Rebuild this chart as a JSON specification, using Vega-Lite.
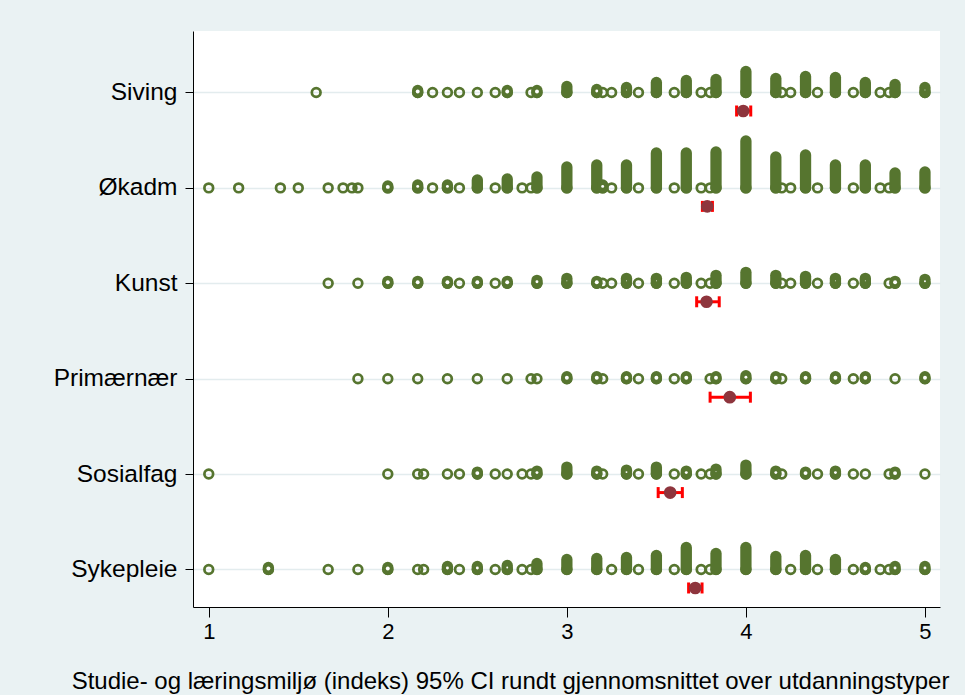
{
  "$schema": "https://vega.github.io/schema/vega-lite/v6.json",
  "width": 747,
  "height": 576,
  "autosize": {"type": "none"},
  "padding": {"left": 193, "top": 31, "right": 25, "bottom": 88},
  "background": "#EAF2F3",
  "view": {"fill": "white", "stroke": null},
  "config": {
    "font": "Liberation Sans",
    "axis": {"domainColor": "black", "tickColor": "black", "labelColor": "black", "titleColor": "black", "domainWidth": 1, "tickWidth": 1}
  },
  "datasets": {
    "dots": [
      {"g": "Siving", "v": 1.6, "n": 1}, {"g": "Siving", "v": 2.167, "n": 2}, {"g": "Siving", "v": 2.25, "n": 1}, {"g": "Siving", "v": 2.333, "n": 1}, {"g": "Siving", "v": 2.4, "n": 1}, {"g": "Siving", "v": 2.5, "n": 1}, {"g": "Siving", "v": 2.6, "n": 1}, {"g": "Siving", "v": 2.667, "n": 2}, {"g": "Siving", "v": 2.8, "n": 1}, {"g": "Siving", "v": 2.833, "n": 2}, {"g": "Siving", "v": 3.0, "n": 6}, {"g": "Siving", "v": 3.167, "n": 3}, {"g": "Siving", "v": 3.2, "n": 1}, {"g": "Siving", "v": 3.25, "n": 1}, {"g": "Siving", "v": 3.333, "n": 5}, {"g": "Siving", "v": 3.4, "n": 1}, {"g": "Siving", "v": 3.5, "n": 10}, {"g": "Siving", "v": 3.6, "n": 1}, {"g": "Siving", "v": 3.667, "n": 12}, {"g": "Siving", "v": 3.75, "n": 1}, {"g": "Siving", "v": 3.8, "n": 1}, {"g": "Siving", "v": 3.833, "n": 13}, {"g": "Siving", "v": 4.0, "n": 21}, {"g": "Siving", "v": 4.167, "n": 14}, {"g": "Siving", "v": 4.2, "n": 1}, {"g": "Siving", "v": 4.25, "n": 1}, {"g": "Siving", "v": 4.333, "n": 16}, {"g": "Siving", "v": 4.4, "n": 1}, {"g": "Siving", "v": 4.5, "n": 15}, {"g": "Siving", "v": 4.6, "n": 1}, {"g": "Siving", "v": 4.667, "n": 10}, {"g": "Siving", "v": 4.75, "n": 1}, {"g": "Siving", "v": 4.8, "n": 1}, {"g": "Siving", "v": 4.833, "n": 8}, {"g": "Siving", "v": 5.0, "n": 5},
      {"g": "Økadm", "v": 1.0, "n": 1}, {"g": "Økadm", "v": 1.167, "n": 1}, {"g": "Økadm", "v": 1.4, "n": 1}, {"g": "Økadm", "v": 1.5, "n": 1}, {"g": "Økadm", "v": 1.667, "n": 1}, {"g": "Økadm", "v": 1.75, "n": 1}, {"g": "Økadm", "v": 1.8, "n": 1}, {"g": "Økadm", "v": 1.833, "n": 1}, {"g": "Økadm", "v": 2.0, "n": 2}, {"g": "Økadm", "v": 2.167, "n": 3}, {"g": "Økadm", "v": 2.25, "n": 1}, {"g": "Økadm", "v": 2.333, "n": 3}, {"g": "Økadm", "v": 2.4, "n": 1}, {"g": "Økadm", "v": 2.5, "n": 8}, {"g": "Økadm", "v": 2.6, "n": 1}, {"g": "Økadm", "v": 2.667, "n": 9}, {"g": "Økadm", "v": 2.75, "n": 1}, {"g": "Økadm", "v": 2.8, "n": 1}, {"g": "Økadm", "v": 2.833, "n": 11}, {"g": "Økadm", "v": 3.0, "n": 21}, {"g": "Økadm", "v": 3.167, "n": 23}, {"g": "Økadm", "v": 3.2, "n": 3}, {"g": "Økadm", "v": 3.25, "n": 1}, {"g": "Økadm", "v": 3.333, "n": 23}, {"g": "Økadm", "v": 3.4, "n": 1}, {"g": "Økadm", "v": 3.5, "n": 35}, {"g": "Økadm", "v": 3.6, "n": 1}, {"g": "Økadm", "v": 3.667, "n": 35}, {"g": "Økadm", "v": 3.75, "n": 1}, {"g": "Økadm", "v": 3.8, "n": 1}, {"g": "Økadm", "v": 3.833, "n": 36}, {"g": "Økadm", "v": 4.0, "n": 47}, {"g": "Økadm", "v": 4.167, "n": 31}, {"g": "Økadm", "v": 4.2, "n": 1}, {"g": "Økadm", "v": 4.25, "n": 1}, {"g": "Økadm", "v": 4.333, "n": 33}, {"g": "Økadm", "v": 4.4, "n": 1}, {"g": "Økadm", "v": 4.5, "n": 23}, {"g": "Økadm", "v": 4.6, "n": 1}, {"g": "Økadm", "v": 4.667, "n": 23}, {"g": "Økadm", "v": 4.75, "n": 1}, {"g": "Økadm", "v": 4.8, "n": 1}, {"g": "Økadm", "v": 4.833, "n": 15}, {"g": "Økadm", "v": 5.0, "n": 16},
      {"g": "Kunst", "v": 1.667, "n": 1}, {"g": "Kunst", "v": 1.833, "n": 1}, {"g": "Kunst", "v": 2.0, "n": 2}, {"g": "Kunst", "v": 2.167, "n": 2}, {"g": "Kunst", "v": 2.333, "n": 2}, {"g": "Kunst", "v": 2.4, "n": 1}, {"g": "Kunst", "v": 2.5, "n": 2}, {"g": "Kunst", "v": 2.6, "n": 1}, {"g": "Kunst", "v": 2.667, "n": 2}, {"g": "Kunst", "v": 2.833, "n": 3}, {"g": "Kunst", "v": 3.0, "n": 5}, {"g": "Kunst", "v": 3.167, "n": 2}, {"g": "Kunst", "v": 3.2, "n": 1}, {"g": "Kunst", "v": 3.25, "n": 1}, {"g": "Kunst", "v": 3.333, "n": 5}, {"g": "Kunst", "v": 3.4, "n": 1}, {"g": "Kunst", "v": 3.5, "n": 5}, {"g": "Kunst", "v": 3.6, "n": 1}, {"g": "Kunst", "v": 3.667, "n": 6}, {"g": "Kunst", "v": 3.75, "n": 1}, {"g": "Kunst", "v": 3.8, "n": 1}, {"g": "Kunst", "v": 3.833, "n": 8}, {"g": "Kunst", "v": 4.0, "n": 11}, {"g": "Kunst", "v": 4.167, "n": 8}, {"g": "Kunst", "v": 4.2, "n": 1}, {"g": "Kunst", "v": 4.25, "n": 1}, {"g": "Kunst", "v": 4.333, "n": 7}, {"g": "Kunst", "v": 4.4, "n": 1}, {"g": "Kunst", "v": 4.5, "n": 5}, {"g": "Kunst", "v": 4.6, "n": 1}, {"g": "Kunst", "v": 4.667, "n": 5}, {"g": "Kunst", "v": 4.8, "n": 1}, {"g": "Kunst", "v": 4.833, "n": 2}, {"g": "Kunst", "v": 5.0, "n": 4},
      {"g": "Primærnær", "v": 1.833, "n": 1}, {"g": "Primærnær", "v": 2.0, "n": 1}, {"g": "Primærnær", "v": 2.167, "n": 1}, {"g": "Primærnær", "v": 2.333, "n": 1}, {"g": "Primærnær", "v": 2.5, "n": 1}, {"g": "Primærnær", "v": 2.667, "n": 1}, {"g": "Primærnær", "v": 2.8, "n": 1}, {"g": "Primærnær", "v": 2.833, "n": 1}, {"g": "Primærnær", "v": 3.0, "n": 2}, {"g": "Primærnær", "v": 3.167, "n": 2}, {"g": "Primærnær", "v": 3.2, "n": 1}, {"g": "Primærnær", "v": 3.333, "n": 2}, {"g": "Primærnær", "v": 3.4, "n": 1}, {"g": "Primærnær", "v": 3.5, "n": 2}, {"g": "Primærnær", "v": 3.6, "n": 1}, {"g": "Primærnær", "v": 3.667, "n": 2}, {"g": "Primærnær", "v": 3.8, "n": 1}, {"g": "Primærnær", "v": 3.833, "n": 2}, {"g": "Primærnær", "v": 4.0, "n": 3}, {"g": "Primærnær", "v": 4.167, "n": 2}, {"g": "Primærnær", "v": 4.2, "n": 1}, {"g": "Primærnær", "v": 4.333, "n": 2}, {"g": "Primærnær", "v": 4.5, "n": 2}, {"g": "Primærnær", "v": 4.6, "n": 1}, {"g": "Primærnær", "v": 4.667, "n": 2}, {"g": "Primærnær", "v": 4.833, "n": 1}, {"g": "Primærnær", "v": 5.0, "n": 2},
      {"g": "Sosialfag", "v": 1.0, "n": 1}, {"g": "Sosialfag", "v": 2.0, "n": 1}, {"g": "Sosialfag", "v": 2.167, "n": 1}, {"g": "Sosialfag", "v": 2.2, "n": 1}, {"g": "Sosialfag", "v": 2.333, "n": 1}, {"g": "Sosialfag", "v": 2.4, "n": 1}, {"g": "Sosialfag", "v": 2.5, "n": 2}, {"g": "Sosialfag", "v": 2.6, "n": 1}, {"g": "Sosialfag", "v": 2.667, "n": 1}, {"g": "Sosialfag", "v": 2.75, "n": 1}, {"g": "Sosialfag", "v": 2.8, "n": 1}, {"g": "Sosialfag", "v": 2.833, "n": 3}, {"g": "Sosialfag", "v": 3.0, "n": 7}, {"g": "Sosialfag", "v": 3.167, "n": 3}, {"g": "Sosialfag", "v": 3.2, "n": 1}, {"g": "Sosialfag", "v": 3.333, "n": 4}, {"g": "Sosialfag", "v": 3.4, "n": 1}, {"g": "Sosialfag", "v": 3.5, "n": 7}, {"g": "Sosialfag", "v": 3.6, "n": 1}, {"g": "Sosialfag", "v": 3.667, "n": 3}, {"g": "Sosialfag", "v": 3.75, "n": 1}, {"g": "Sosialfag", "v": 3.8, "n": 1}, {"g": "Sosialfag", "v": 3.833, "n": 5}, {"g": "Sosialfag", "v": 4.0, "n": 9}, {"g": "Sosialfag", "v": 4.167, "n": 3}, {"g": "Sosialfag", "v": 4.2, "n": 1}, {"g": "Sosialfag", "v": 4.333, "n": 2}, {"g": "Sosialfag", "v": 4.4, "n": 1}, {"g": "Sosialfag", "v": 4.5, "n": 3}, {"g": "Sosialfag", "v": 4.6, "n": 1}, {"g": "Sosialfag", "v": 4.667, "n": 1}, {"g": "Sosialfag", "v": 4.8, "n": 1}, {"g": "Sosialfag", "v": 4.833, "n": 2}, {"g": "Sosialfag", "v": 5.0, "n": 1},
      {"g": "Sykepleie", "v": 1.0, "n": 1}, {"g": "Sykepleie", "v": 1.333, "n": 2}, {"g": "Sykepleie", "v": 1.667, "n": 1}, {"g": "Sykepleie", "v": 1.833, "n": 1}, {"g": "Sykepleie", "v": 2.0, "n": 2}, {"g": "Sykepleie", "v": 2.167, "n": 1}, {"g": "Sykepleie", "v": 2.2, "n": 1}, {"g": "Sykepleie", "v": 2.333, "n": 3}, {"g": "Sykepleie", "v": 2.4, "n": 1}, {"g": "Sykepleie", "v": 2.5, "n": 3}, {"g": "Sykepleie", "v": 2.6, "n": 1}, {"g": "Sykepleie", "v": 2.667, "n": 4}, {"g": "Sykepleie", "v": 2.75, "n": 1}, {"g": "Sykepleie", "v": 2.8, "n": 1}, {"g": "Sykepleie", "v": 2.833, "n": 6}, {"g": "Sykepleie", "v": 3.0, "n": 10}, {"g": "Sykepleie", "v": 3.167, "n": 11}, {"g": "Sykepleie", "v": 3.25, "n": 1}, {"g": "Sykepleie", "v": 3.333, "n": 12}, {"g": "Sykepleie", "v": 3.4, "n": 1}, {"g": "Sykepleie", "v": 3.5, "n": 14}, {"g": "Sykepleie", "v": 3.6, "n": 1}, {"g": "Sykepleie", "v": 3.667, "n": 22}, {"g": "Sykepleie", "v": 3.75, "n": 1}, {"g": "Sykepleie", "v": 3.8, "n": 1}, {"g": "Sykepleie", "v": 3.833, "n": 16}, {"g": "Sykepleie", "v": 4.0, "n": 22}, {"g": "Sykepleie", "v": 4.167, "n": 13}, {"g": "Sykepleie", "v": 4.25, "n": 1}, {"g": "Sykepleie", "v": 4.333, "n": 14}, {"g": "Sykepleie", "v": 4.4, "n": 1}, {"g": "Sykepleie", "v": 4.5, "n": 10}, {"g": "Sykepleie", "v": 4.6, "n": 1}, {"g": "Sykepleie", "v": 4.667, "n": 2}, {"g": "Sykepleie", "v": 4.75, "n": 1}, {"g": "Sykepleie", "v": 4.8, "n": 1}, {"g": "Sykepleie", "v": 4.833, "n": 3}, {"g": "Sykepleie", "v": 5.0, "n": 3}
    ],
    "ci": [
      {"g": "Siving", "mean": 3.985, "lo": 3.948, "hi": 4.027},
      {"g": "Økadm", "mean": 3.784, "lo": 3.757, "hi": 3.813},
      {"g": "Kunst", "mean": 3.78, "lo": 3.725, "hi": 3.851},
      {"g": "Primærnær", "mean": 3.91, "lo": 3.8, "hi": 4.025},
      {"g": "Sosialfag", "mean": 3.577, "lo": 3.51, "hi": 3.645},
      {"g": "Sykepleie", "mean": 3.717, "lo": 3.68, "hi": 3.755}
    ]
  },
  "encoding": {
    "y": {
      "field": "g", "type": "nominal",
      "sort": ["Siving", "Økadm", "Kunst", "Primærnær", "Sosialfag", "Sykepleie"],
      "scale": {"type": "point", "padding": 0.519, "align": 0.621},
      "axis": {"title": null, "tickSize": 8, "labelFontSize": 24.5, "labelPadding": 8, "grid": true, "gridColor": "#E3ECEE", "gridWidth": 1.5}
    }
  },
  "layer": [
    {
      "data": {"name": "dots"},
      "mark": {"type": "point", "filled": false, "color": "#56752F", "strokeWidth": 2.7, "size": 76, "opacity": 1},
      "encoding": {
        "x": {
          "field": "v", "type": "quantitative",
          "scale": {"domain": [0.912, 5.084], "nice": false, "zero": false},
          "axis": {"values": [1, 2, 3, 4, 5], "format": "d", "grid": false, "tickSize": 10, "labelFontSize": 22, "labelPadding": 4, "title": "Studie- og læringsmiljø (indeks) 95% CI rundt gjennomsnittet over utdanningstyper", "titleFontSize": 24, "titleFontWeight": "normal", "titleX": 317, "titleY": 81, "titleAlign": "center", "titleBaseline": "alphabetic"}
        }
      }
    },
    {
      "data": {"name": "dots"},
      "transform": [{"filter": "datum.n >= 2"}],
      "mark": {"type": "point", "shape": "M0,0L0,-2", "filled": false, "color": "#56752F", "strokeWidth": 11.3, "strokeCap": "round", "opacity": 1},
      "encoding": {
        "x": {"field": "v", "type": "quantitative"},
        "size": {"field": "n", "type": "quantitative", "scale": {"type": "pow", "exponent": 2, "domain": [0, 100], "range": [0, 10000]}, "legend": null}
      }
    },
    {
      "data": {"name": "dots"},
      "transform": [{"filter": "datum.n >= 2 && datum.n <= 5"}],
      "mark": {"type": "point", "shape": "M0,-1L0,-1", "filled": false, "color": "white", "strokeCap": "round", "opacity": 1},
      "encoding": {
        "x": {"field": "v", "type": "quantitative"},
        "size": {"field": "n", "type": "quantitative", "scale": {"type": "pow", "exponent": 2, "domain": [0, 100], "range": [0, 10000]}, "legend": null},
        "strokeWidth": {"field": "n", "type": "quantitative", "scale": {"domain": [0, 5.9], "range": [5.9, 0]}, "legend": null}
      }
    },
    {
      "data": {"name": "ci"},
      "mark": {"type": "rule", "color": "#FF0000", "strokeWidth": 3, "yOffset": 18.5},
      "encoding": {
        "x": {"field": "lo", "type": "quantitative"},
        "x2": {"field": "hi"}
      }
    },
    {
      "data": {"name": "ci"},
      "transform": [{"fold": ["lo", "hi"], "as": ["end", "val"]}],
      "mark": {"type": "tick", "color": "#FF0000", "thickness": 3, "size": 11, "yOffset": 18.5, "opacity": 1},
      "encoding": {
        "x": {"field": "val", "type": "quantitative"}
      }
    },
    {
      "data": {"name": "ci"},
      "mark": {"type": "point", "filled": true, "color": "#8E353D", "size": 160, "opacity": 1, "yOffset": 18.5},
      "encoding": {
        "x": {"field": "mean", "type": "quantitative"}
      }
    }
  ]
}
